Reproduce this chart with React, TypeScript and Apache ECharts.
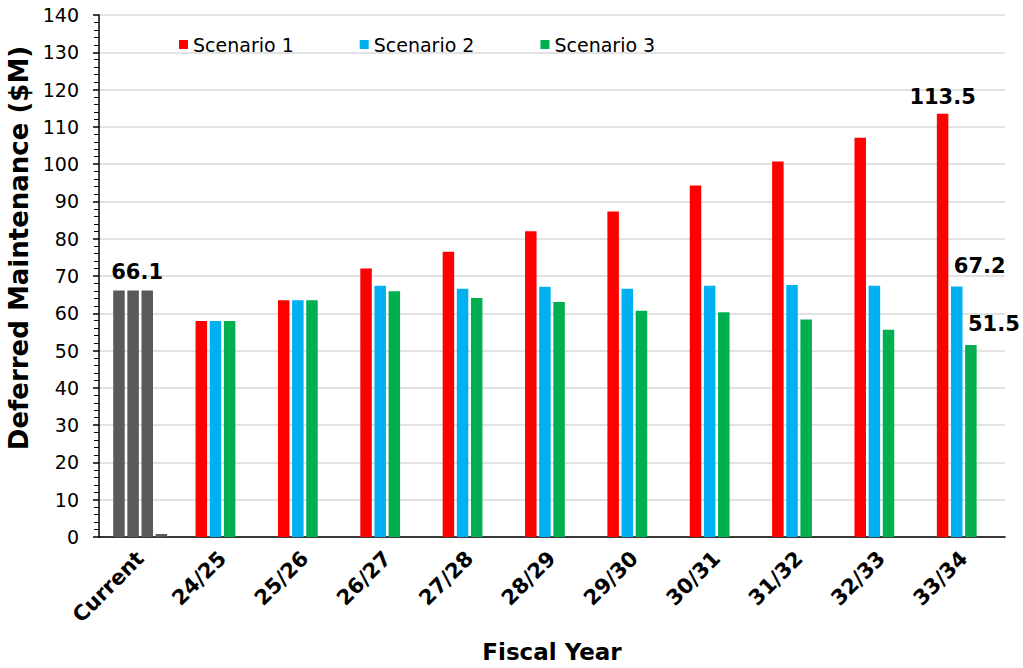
import React, { useEffect, useRef } from "react";
import * as echarts from "echarts";

const categories = ["Current", "24/25", "25/26", "26/27", "27/28", "28/29", "29/30", "30/31", "31/32", "32/33", "33/34"];
const scenario1 = [66.1, 57.9, 63.5, 72.0, 76.5, 82.0, 87.3, 94.3, 100.7, 107.1, 113.5];
const scenario2 = [66.1, 57.9, 63.5, 67.4, 66.6, 67.1, 66.6, 67.4, 67.6, 67.4, 67.2];
const scenario3 = [66.1, 57.9, 63.5, 65.9, 64.1, 63.0, 60.7, 60.3, 58.3, 55.6, 51.5];
const currentExtra = [0.8, null, null, null, null, null, null, null, null, null, null];
const yTicks = { min: 0, max: 140, interval: 10 };

const RED = "#FF0000";
const BLUE = "#00B0F0";
const GREEN = "#00B050";
const GRAY = "#595959";
const FONT = "DejaVu Sans";

// labels: index -> offset
function build(values: (number | null)[], labels: Record<number, number[]>) {
  return values.map((v, i) => {
    const item: any = { value: v };
    if (i === 0) item.itemStyle = { color: GRAY };
    if (labels[i]) {
      item.label = {
        show: true,
        position: "top",
        offset: labels[i],
        fontFamily: FONT,
        fontWeight: "bold",
        fontSize: 21,
        color: "#000",
        formatter: "{c}",
      };
    }
    return item;
  });
}

export default function App() {
  const ref = useRef<HTMLDivElement>(null);
  useEffect(() => {
    if (!ref.current) return;
    const chart = echarts.init(ref.current, undefined, { renderer: "svg" });
    const barCommon = {
      type: "bar",
      barWidth: 11.5,
      barGap: "23%",
    };
    chart.setOption({
      animation: false,
      backgroundColor: "#fff",
      textStyle: { fontFamily: FONT },
      grid: { left: 99, right: 18, top: 15, bottom: 131, outerBoundsMode: "none", containLabel: false },
      legend: {
        data: ["Scenario 1", "Scenario 2", "Scenario 3"],
        left: 179,
        top: 35,
        padding: 0,
        itemWidth: 9,
        itemHeight: 9,
        itemGap: 66,
        icon: "rect",
        textStyle: { fontFamily: FONT, fontSize: 19, color: "#000" },
      },
      xAxis: {
        type: "category",
        data: categories,
        name: "Fiscal Year",
        nameLocation: "middle",
        nameGap: 103,
        nameTextStyle: { fontFamily: FONT, fontWeight: "bold", fontSize: 23, color: "#000" },
        axisLine: { lineStyle: { color: "#000", width: 1.5 } },
        axisTick: { length: 6, lineStyle: { color: "#000", width: 1.5 } },
        axisLabel: {
          interval: 0,
          rotate: 45,
          margin: 18,
          fontFamily: FONT,
          fontWeight: "bold",
          fontSize: 21,
          color: "#000",
        },
      },
      yAxis: {
        type: "value",
        min: yTicks.min,
        max: yTicks.max,
        interval: yTicks.interval,
        name: "Deferred Maintenance ($M)",
        nameLocation: "middle",
        nameGap: 63,
        nameTextStyle: { fontFamily: FONT, fontWeight: "bold", fontSize: 26, color: "#000", padding: [0, 0, 0, 56] },
        axisLine: { show: true, lineStyle: { color: "#000", width: 1.5 } },
        axisTick: { show: true, length: 6, lineStyle: { color: "#000", width: 1.5 } },
        minorTick: { show: true, splitNumber: 5, length: 5, lineStyle: { color: "#000", width: 1 } },
        axisLabel: { margin: 20, fontFamily: FONT, fontSize: 19, color: "#000" },
        splitLine: { show: true, lineStyle: { color: "#D9D9D9", width: 1.5 } },
      },
      series: [
        { ...barCommon, name: "Scenario 1", itemStyle: { color: RED }, data: build(scenario1, { 10: [0, -1] }) },
        { ...barCommon, name: "Scenario 2", itemStyle: { color: BLUE }, data: build(scenario2, { 0: [4, -3], 10: [23, -5] }) },
        { ...barCommon, name: "Scenario 3", itemStyle: { color: GREEN }, data: build(scenario3, { 10: [23, -5] }) },
        { ...barCommon, name: "Current Extra", itemStyle: { color: GRAY }, data: build(currentExtra, {}) },
      ],
    });
    return () => chart.dispose();
  }, []);
  return (
    <div
      ref={ref}
      style={{ position: "fixed", left: 0, top: 0, width: 1023, height: 668, background: "#fff" }}
    />
  );
}
